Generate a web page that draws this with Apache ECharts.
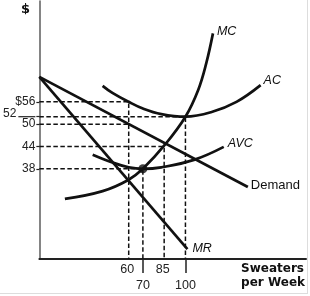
<!DOCTYPE html>
<html style="height: 100%">

<head>
    <meta charset="utf-8">
</head>

<body style="height: 100%;width: 100%;margin: 0;">
    <div id="container" style="height: 296px;width: 310px;"></div>
    <script type="text/javascript" src="https://cdn.jsdelivr.net/npm/echarts@6/dist/echarts.min.js"></script>
    <script type="text/javascript">
        // quantity (sweaters per week) on x, dollars on y
        var qMin = -3, qMax = 185;
        var pMin = 13.75, pMax = 83.1;

        var demand = [[-3, 62.7], [144, 33.1]];
        var mr = [[-3, 62.7], [101.4, 16.4]];
        var mc = [[15, 29.9], [41.6, 32], [59.7, 35], [70, 38], [85.4, 44.4], [100, 52], [109, 59.2], [114.7, 66.4], [119.4, 74.4]];
        var ac = [[41.6, 60.3], [48.5, 58.4], [60, 56], [70, 54.2], [83, 52.7], [100, 52], [118, 53.2], [136, 56], [153, 60.5]];
        var avc = [[34.6, 41.8], [48.5, 39.7], [60, 38.4], [70, 38], [83, 38.4], [106, 40.4], [127, 43.9]];
        var shutdown = [[70, 38]];

        var yTicks = [38, 44, 50, 52, 56];
        var xTicks = [60, 70, 85, 100];
        var xLowTicks = [70, 100];

        var guides = [
            [[-3, 56], [60, 56], [60, pMin]],
            [[-3, 52], [100, 52], [100, pMin]],
            [[-3, 50], [60, 50]],
            [[-3, 44], [85, 44], [85, pMin]],
            [[-3, 38], [70, 38], [70, pMin]]
        ];

        var dom = document.getElementById("container");
        var myChart = echarts.init(dom);

        var font = 'Liberation Sans';
        var ink = '#111';

        function curve(name, data, smooth, lbl) {
            return {
                name: name,
                type: 'line',
                data: data,
                smooth: smooth,
                showSymbol: false,
                symbol: 'none',
                lineStyle: { color: ink, width: 2.7 },
                z: 5,
                endLabel: {
                    show: true,
                    formatter: name,
                    distance: lbl.distance,
                    offset: lbl.offset,
                    color: ink,
                    fontFamily: font,
                    fontSize: lbl.size || 12.5,
                    fontStyle: lbl.italic === false ? 'normal' : 'italic'
                }
            };
        }

        var series = guides.map(function (seg) {
            return {
                type: 'line',
                data: seg,
                showSymbol: false,
                symbol: 'none',
                lineStyle: { color: '#111', width: 1.5, type: [4.5, 2.5] },
                z: 2
            };
        });

        series.push(curve('MC', mc, 0.4, { distance: 4, offset: [0, -2] }));
        series.push(curve('AC', ac, 0.4, { distance: 3, offset: [0, -5] }));
        series.push(curve('AVC', avc, 0.4, { distance: 4, offset: [0, -3] }));
        series.push(curve('Demand', demand, false, { distance: 3, offset: [0, -2], size: 13, italic: false }));
        series.push(curve('MR', mr, false, { distance: 5, offset: [0, -1] }));
        series.push({
            type: 'scatter',
            data: shutdown,
            symbolSize: 9,
            itemStyle: { color: ink },
            z: 6
        });

        var option = {
            animation: false,
            grid: { left: 36, right: 4, top: 1, bottom: 37 },
            xAxis: {
                type: 'value',
                min: qMin,
                max: qMax,
                splitLine: { show: false },
                axisLine: { onZero: false, lineStyle: { color: '#222', width: 2 } },
                axisTick: {
                    show: true,
                    customValues: xLowTicks,
                    length: 14,
                    lineStyle: { color: '#222', width: 1.5 }
                },
                axisLabel: {
                    customValues: xTicks,
                    hideOverlap: false,
                    margin: 4,
                    color: '#222',
                    fontFamily: font,
                    fontSize: 12.5,
                    formatter: function (v) {
                        return xLowTicks.indexOf(v) >= 0 ? '{lo|' + v + '}' : '{hi|' + v + '}';
                    },
                    rich: {
                        hi: { fontFamily: font, fontSize: 12.5, color: '#222', padding: [0, 3, 0, 0] },
                        lo: { fontFamily: font, fontSize: 12.5, color: '#222', padding: [16, 0, 0, 0] }
                    }
                }
            },
            yAxis: {
                type: 'value',
                min: pMin,
                max: pMax,
                splitLine: { show: false },
                axisLine: { onZero: false, lineStyle: { color: '#666', width: 1.6 } },
                axisTick: {
                    show: true,
                    customValues: yTicks,
                    length: 3,
                    lineStyle: { color: '#222', width: 1.2 }
                },
                axisLabel: {
                    customValues: yTicks,
                    hideOverlap: false,
                    margin: 4,
                    color: '#222',
                    fontFamily: font,
                    fontSize: 12,
                    formatter: function (v) {
                        if (v === 56) return '$56';
                        if (v === 52) return '{n|52}{l|}';
                        return '' + v;
                    },
                    rich: {
                        n: { fontFamily: font, fontSize: 12, color: '#222', padding: [0, 2, 6, 0] },
                        l: { width: 17, height: 1.2, backgroundColor: '#222' }
                    }
                }
            },
            graphic: [
                {
                    type: 'text', left: 21, top: 3,
                    style: { text: '$', fontFamily: 'DejaVu Sans', fontWeight: 'bold', fontSize: 13, fill: ink }
                },
                {
                    type: 'text', right: 5, top: 262,
                    style: {
                        text: 'Sweaters\nper Week', align: 'right', lineHeight: 14,
                        fontFamily: 'DejaVu Sans', fontWeight: 'bold', fontSize: 12, fill: ink
                    }
                },
                {
                    type: 'line', shape: { x1: 307.5, y1: 0, x2: 307.5, y2: 293 },
                    style: { stroke: '#ddd', lineWidth: 1 }
                },
                {
                    type: 'line', shape: { x1: 0, y1: 293.5, x2: 308, y2: 293.5 },
                    style: { stroke: '#ddd', lineWidth: 1 }
                }
            ],
            series: series
        };

        myChart.setOption(option);
        window.onresize = myChart.resize;
    </script>
</body>

</html>
